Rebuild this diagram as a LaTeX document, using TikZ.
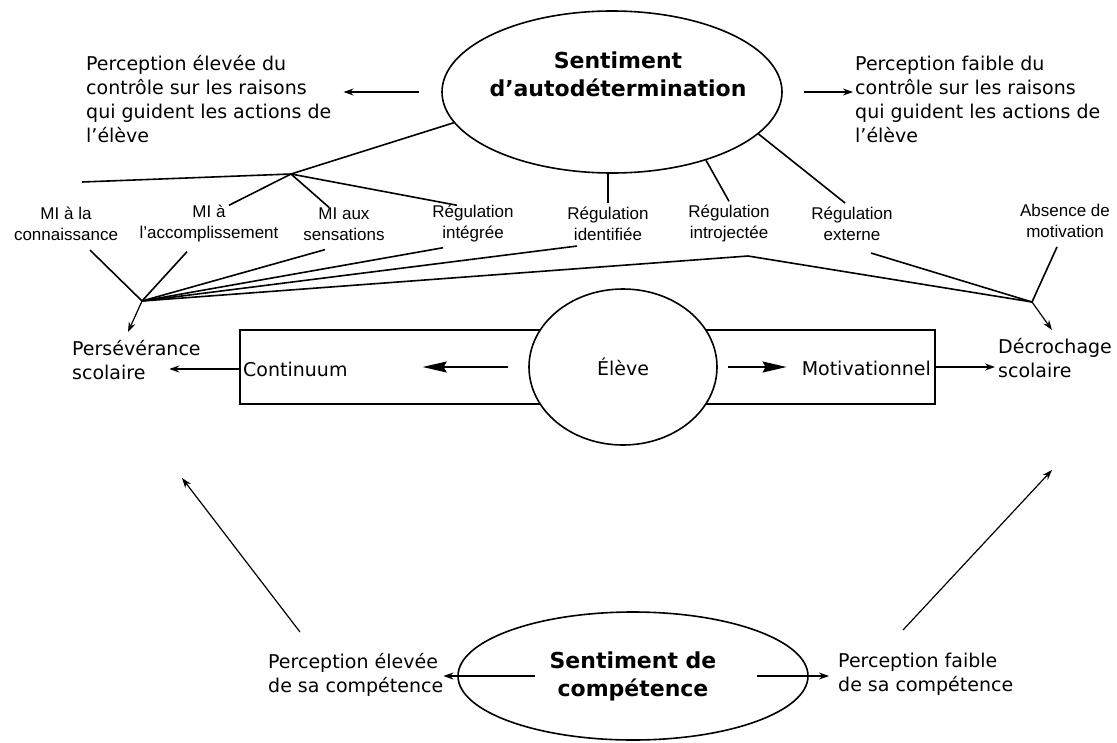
\documentclass[tikz,border=0pt]{standalone}
\usepackage{fontspec}
\setmainfont{DejaVu Sans}
\newfontfamily\arialfam{Liberation Sans}
\usetikzlibrary{shapes,arrows.meta,positioning}
\tikzstyle{bulle} = [draw,ellipse,line width=1.6pt,inner sep=0]
\tikzstyle{cadre} = [draw,rectangle,line width=1.4pt,inner sep=0]
\tikzstyle{titre} = [align=center,inner sep=0,font=\bfseries\fontsize{22}{28}\selectfont]
\tikzstyle{texte} = [align=left,inner sep=0,font=\fontsize{19}{24}\selectfont]
\tikzstyle{forme} = [align=center,inner sep=0,font=\arialfam\fontsize{17}{21}\selectfont]
\tikzstyle{lien} = [-,line width=1.6pt]
\tikzstyle{fleche} = [-{Stealth[length=10pt,width=7pt]},line width=1.2pt]
\tikzstyle{grosse} = [-{Stealth[length=24pt,width=11pt,inset=3pt]},line width=1.3pt]
\def \bas {-9pt}

\begin{document}
\begin{tikzpicture}[x=1pt,y=-1pt]
  \useasboundingbox (0,0) rectangle (1117,742);
  % sentiment d'autodetermination
  \node[bulle,minimum width=340pt,minimum height=162pt] (sad) at (612,92) {};
  \node[titre] (sadt) at (618,74) {Sentiment\\d’autodétermination};
  \node[texte,anchor=north west] (hi) at (86,55) {Perception élevée du\\contrôle sur les raisons\\qui guident les actions de\\l’élève};
  \node[texte,anchor=north west] (lo) at (855,56) {Perception faible du\\contrôle sur les raisons\\qui guident les actions de\\l’élève};
  \draw[fleche,shorten <=22pt,shorten >=12pt] (sad.west) -- (sad.west -| hi.east);
  \draw[fleche,shorten <=21pt,shorten >=2pt] (sad.east) -- (sad.east -| lo.west);

  % types de motivation
  \node[forme] (mi1) at (66,224) {MI à la\\connaissance};
  \node[forme] (mi2) at (209,224) {MI à\\l’accomplissement};
  \node[forme] (mi3) at (344,224) {MI aux\\sensations};
  \node[forme] (ri) at (473,224) {Régulation\\intégrée};
  \node[forme] (rid) at (608,224) {Régulation\\identifiée};
  \node[forme] (rin) at (729,224) {Régulation\\introjectée};
  \node[forme] (rex) at (852,224) {Régulation\\externe};
  \node[forme] (am) at (1065,221) {Absence de\\motivation};

  \coordinate (jt) at (291,174);
  \coordinate (jg) at (82,182);
  \draw[lien] (sad.191) -- (jt) -- (jg);
  \draw[lien] (jt) -- ([xshift=20pt]mi2.north);
  \draw[lien] (jt) -- ([xshift=-15pt]mi3.north);
  \draw[lien] (jt) -- ([xshift=-16pt]ri.north);
  \draw[lien] ([yshift=4pt]rid.north) -- (rid.north |- sad.south);
  \draw[lien] (sad.324) -- ([yshift=4pt]rin.north);
  \draw[lien] (sad.344) -- ([xshift=-7pt,yshift=4pt]rex.north);

  % convergence
  \coordinate (jL) at (142,301);
  \coordinate (jR) at (1032,302);
  \coordinate (pk) at (748,256);
  \draw[lien] ([xshift=24pt,yshift=\bas]mi1.south) -- (jL);
  \draw[lien] ([xshift=-22pt,yshift=\bas]mi2.south) -- (jL);
  \draw[lien] ([xshift=-19pt,yshift=\bas]mi3.south) -- (jL);
  \draw[lien] ([xshift=-30pt,yshift=-5pt]ri.south) -- (jL);
  \draw[lien] ([xshift=-31pt,yshift=-5pt]rid.south) -- (jL);
  \draw[lien] (jL) -- (pk) -- (jR);
  \draw[lien] ([xshift=19pt,yshift=-12pt]rex.south) -- (jR);
  \draw[lien] ([xshift=-8pt,yshift=\bas]am.south) -- (jR);
  \draw[fleche] (jL) -- +(-14,31);
  \draw[fleche] (jR) -- +(20,28);

  % continuum
  \node[texte,anchor=north west] (pers) at (72,340) {Persévérance\\scolaire};
  \node[texte,anchor=north west] (dec) at (998,338) {Décrochage\\scolaire};
  \node[cadre,minimum width=695pt,minimum height=74pt] (bx) at (587.5,367) {};
  \node[bulle,fill=white,minimum width=188pt,minimum height=156pt,font=\fontsize{19}{24}\selectfont] (elv) at (623,367) {Élève};
  \node[texte,anchor=west] (ctn) at (243,369) {Continuum};
  \node[texte,anchor=east] (mot) at (931,368) {Motivationnel};
  \draw[grosse,shorten <=20pt,shorten >=75pt] (elv.west) -- (elv.west -| ctn.east);
  \draw[grosse,shorten <=10pt,shorten >=15pt] (elv.east) -- (elv.east -| mot.west);
  \draw[fleche] ([yshift=-2pt]bx.west) -- +(-70,0);
  \draw[fleche,shorten >=3pt] (bx.east) -- (bx.east -| dec.west);

  % sentiment de competence
  \node[bulle,minimum width=350pt,minimum height=128pt,align=center,font=\bfseries\fontsize{22}{28}\selectfont] (sc) at (633,676) {Sentiment de\\compétence};
  \node[texte,anchor=north west] (hic) at (268,653) {Perception élevée\\de sa compétence};
  \node[texte,anchor=north west] (loc) at (838,653) {Perception faible\\de sa compétence};
  \draw[fleche,shorten <=98pt] (sc.center) -- (sc.center -| hic.east);
  \draw[fleche,shorten <=124pt,shorten >=9pt] (sc.center) -- (sc.center -| loc.west);
  \draw[fleche] ([xshift=32pt,yshift=21pt]hic.north west) -- +(-118,-154);
  \draw[fleche] ([xshift=65pt,yshift=23pt]loc.north west) -- +(149,-160);
\end{tikzpicture}
\end{document}
